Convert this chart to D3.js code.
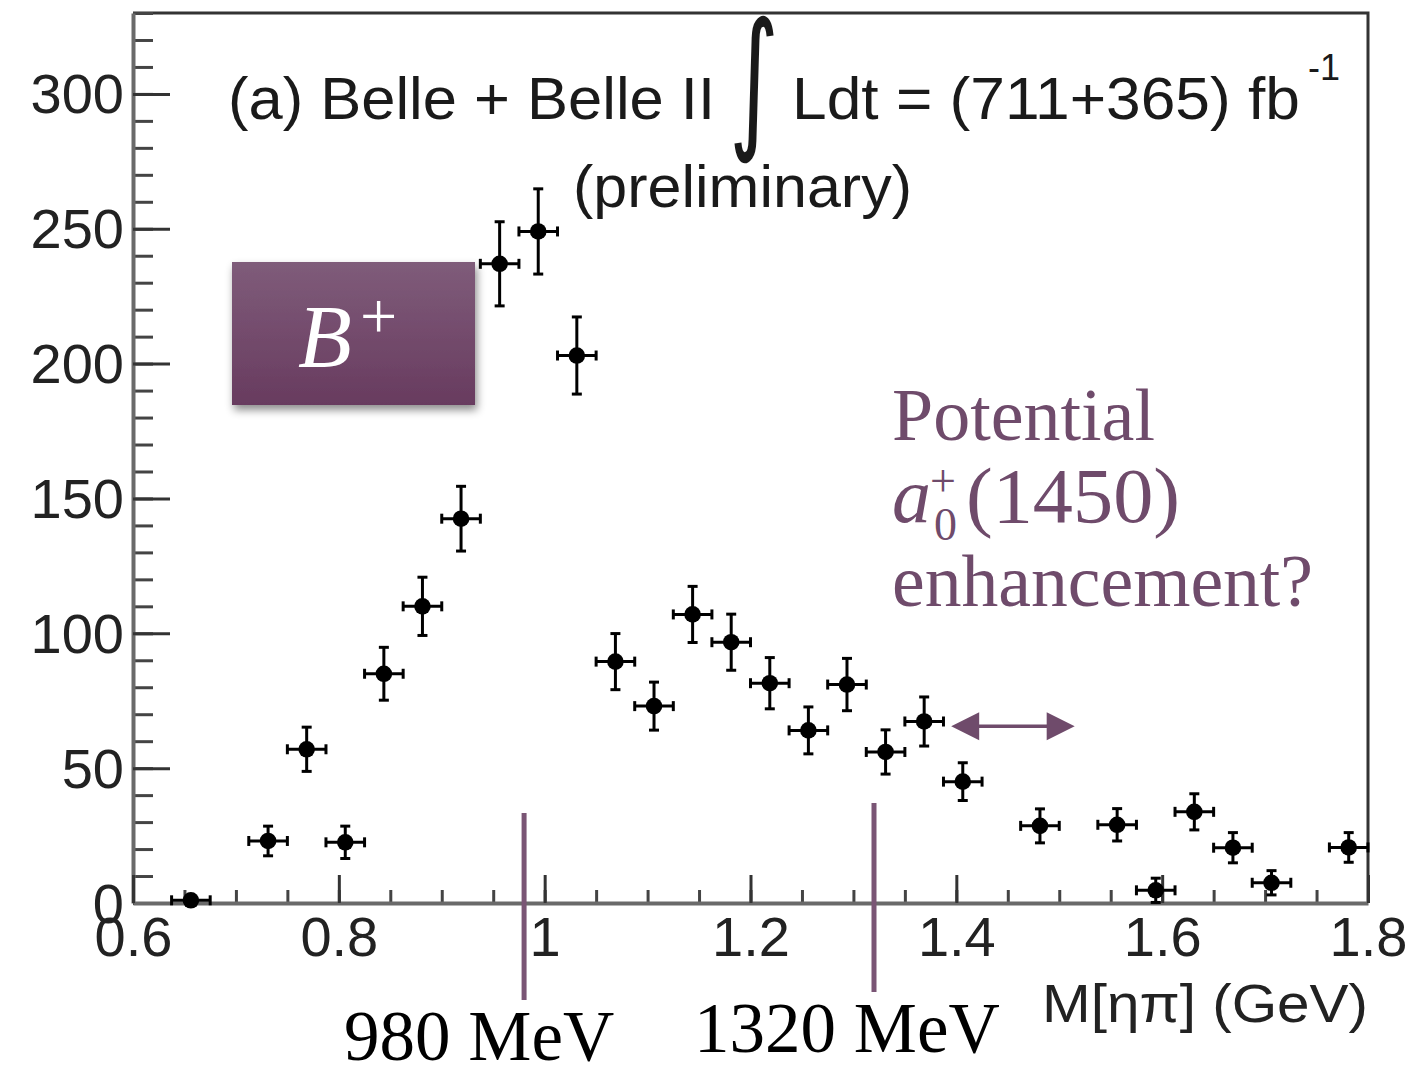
<!DOCTYPE html>
<html>
<head>
<meta charset="utf-8">
<script src="https://cdn.jsdelivr.net/npm/d3@7"></script>
<style>
  html, body { margin: 0; padding: 0; background: #ffffff; }
  svg { display: block; }
</style>
</head>
<body>
<svg id="chart" width="1414" height="1078"></svg>
<script>
// M(eta pi) spectrum, B+ sample: bin centres (GeV), yields and their errors
const binWidth = 0.0375;
const binCenters = [0.65625, 0.73125, 0.76875, 0.80625, 0.84375, 0.88125, 0.91875, 0.95625,
  0.99375, 1.03125, 1.06875, 1.10625, 1.14375, 1.18125, 1.21875, 1.25625, 1.29375, 1.33125,
  1.36875, 1.40625, 1.48125, 1.55625, 1.59375, 1.63125, 1.66875, 1.70625, 1.78125];
const counts = [1, 23, 57, 22.5, 85, 110, 142.5, 237, 249, 203, 89.5, 73, 107, 96.7, 81.5,
  64, 81, 56, 67.3, 45, 28.6, 29, 4.7, 33.8, 20.5, 7.5, 20.6];
const countErrors = [1.5, 5.5, 8.2, 6, 9.8, 10.8, 12, 15.6, 15.8, 14.3, 10.4, 8.9, 10.4, 10.4,
  9.5, 8.7, 9.7, 8.2, 9.1, 7, 6.3, 6, 4.5, 6.7, 5.6, 4.5, 5.5];

// axis ticks
const xTickValues = [0.6, 0.8, 1.0, 1.2, 1.4, 1.6, 1.8];
const yTickValues = [0, 50, 100, 150, 200, 250, 300];

// reference masses and the a0(1450) window
const markerMasses = [0.98, 1.32];
const markerLabels = ["980 MeV", "1320 MeV"];
const enhancementRange = [1.395, 1.515];

const svg = d3.select("#chart");
const frame = { left: 133, right: 1368, top: 13, bottom: 903 };
const purple = "#6f4b6b";
const sans = "'Liberation Sans', Arial, Helvetica, sans-serif";
const serif = "'Liberation Serif', 'Times New Roman', serif";

const x = d3.scaleLinear().domain([0.6, 1.8]).range([frame.left, frame.right]);
const y = d3.scaleLinear().domain([0, 330]).range([frame.bottom, frame.top]);

const defs = svg.append("defs");
const grad = defs.append("linearGradient").attr("id", "boxGrad")
  .attr("x1", 0).attr("y1", 0).attr("x2", 0).attr("y2", 1);
grad.append("stop").attr("offset", "0%").attr("stop-color", "#7f5c7a");
grad.append("stop").attr("offset", "100%").attr("stop-color", "#683b5f");
const shadow = defs.append("filter").attr("id", "shadow")
  .attr("x", "-20%").attr("y", "-20%").attr("width", "150%").attr("height", "150%");
shadow.append("feDropShadow").attr("dx", 2).attr("dy", 5).attr("stdDeviation", 4)
  .attr("flood-color", "#000").attr("flood-opacity", 0.45);

// frame: top and right edges
svg.append("path")
  .attr("d", `M${frame.left},${frame.top}H${frame.right}V${frame.bottom}`)
  .attr("fill", "none").attr("stroke", "#333").attr("stroke-width", 3);

// y axis: minor ticks, then major ticks with labels
const yMinor = d3.range(0, 331, 10);
svg.append("g").attr("transform", `translate(${frame.left},0)`)
  .call(d3.axisLeft(y).tickValues(yMinor).tickSize(-20).tickSizeOuter(0).tickFormat(""))
  .call(g => g.select(".domain").remove())
  .call(g => g.selectAll(".tick line").attr("stroke", "#444").attr("stroke-width", 3));
const yAxis = svg.append("g").attr("transform", `translate(${frame.left},0)`)
  .call(d3.axisLeft(y).tickValues(yTickValues).tickSize(-37).tickSizeOuter(0).tickPadding(9)
    .tickFormat(d => String(d)));
yAxis.select(".domain").attr("stroke", "#6a6a6a").attr("stroke-width", 4);
yAxis.selectAll(".tick line").attr("stroke", "#333").attr("stroke-width", 3);
yAxis.selectAll(".tick text").attr("font-family", sans).attr("font-size", 56)
  .attr("fill", "#222").attr("dy", "0.34em");

// x axis
const xMinor = d3.range(0.6, 1.8001, 0.05);
svg.append("g").attr("transform", `translate(0,${frame.bottom})`)
  .call(d3.axisBottom(x).tickValues(xMinor).tickSize(-13).tickSizeOuter(0).tickFormat(""))
  .call(g => g.select(".domain").remove())
  .call(g => g.selectAll(".tick line").attr("stroke", "#444").attr("stroke-width", 3));
const xAxis = svg.append("g").attr("transform", `translate(0,${frame.bottom})`)
  .call(d3.axisBottom(x).tickValues(xTickValues).tickSize(-28).tickSizeOuter(0).tickPadding(13)
    .tickFormat(d => String(+d.toFixed(1))));
xAxis.select(".domain").attr("stroke", "#6a6a6a").attr("stroke-width", 4);
xAxis.selectAll(".tick line").attr("stroke", "#333").attr("stroke-width", 3);
xAxis.selectAll(".tick text").attr("font-family", sans).attr("font-size", 56).attr("fill", "#222");

svg.append("text").attr("x", frame.right).attr("y", 1022).attr("text-anchor", "end")
  .attr("font-family", sans).attr("font-size", 53).attr("fill", "#222")
  .attr("textLength", 326).attr("lengthAdjust", "spacingAndGlyphs")
  .text("M[ηπ] (GeV)");

// data points with error bars
const pts = binCenters.map((c, i) => ({ c, v: counts[i], e: countErrors[i] }));
const pg = svg.append("g").attr("stroke", "#000").attr("stroke-width", 3);
const cap = 5;
pts.forEach(p => {
  const cx = x(p.c), cy = y(p.v);
  const xl = x(p.c - binWidth / 2), xr = x(p.c + binWidth / 2);
  const yt = y(p.v + p.e), yb = y(Math.max(0, p.v - p.e));
  pg.append("line").attr("x1", xl).attr("x2", xr).attr("y1", cy).attr("y2", cy);
  pg.append("line").attr("x1", cx).attr("x2", cx).attr("y1", yt).attr("y2", yb);
  pg.append("line").attr("x1", xl).attr("x2", xl).attr("y1", cy - cap).attr("y2", cy + cap);
  pg.append("line").attr("x1", xr).attr("x2", xr).attr("y1", cy - cap).attr("y2", cy + cap);
  pg.append("line").attr("x1", cx - cap).attr("x2", cx + cap).attr("y1", yt).attr("y2", yt);
  if (p.v - p.e > 0)
    pg.append("line").attr("x1", cx - cap).attr("x2", cx + cap).attr("y1", yb).attr("y2", yb);
});
svg.append("g").selectAll("circle").data(pts).join("circle")
  .attr("cx", d => x(d.c)).attr("cy", d => y(d.v)).attr("r", 8.3).attr("fill", "#000");

// header text
svg.append("text").attr("x", 228).attr("y", 119).attr("font-family", sans).attr("font-size", 60)
  .attr("fill", "#1a1a1a").attr("textLength", 487).attr("lengthAdjust", "spacingAndGlyphs")
  .text("(a) Belle + Belle II");
svg.append("text").attr("transform", "translate(729,131) scale(1,1.59)")
  .attr("font-family", "'DejaVu Sans', sans-serif").attr("font-size", 96).attr("fill", "#1a1a1a")
  .text("∫");
svg.append("text").attr("x", 792).attr("y", 119).attr("font-family", sans).attr("font-size", 60)
  .attr("fill", "#1a1a1a").attr("textLength", 508).attr("lengthAdjust", "spacingAndGlyphs")
  .text("Ldt = (711+365) fb");
svg.append("text").attr("x", 1308).attr("y", 80).attr("font-family", sans).attr("font-size", 36)
  .attr("fill", "#1a1a1a").text("-1");
svg.append("text").attr("x", 573).attr("y", 207).attr("font-family", sans).attr("font-size", 60)
  .attr("fill", "#1a1a1a").attr("textLength", 339).attr("lengthAdjust", "spacingAndGlyphs")
  .text("(preliminary)");

// B+ tag
svg.append("rect").attr("x", 232).attr("y", 262).attr("width", 243).attr("height", 143)
  .attr("fill", "url(#boxGrad)").attr("filter", "url(#shadow)");
svg.append("text").attr("x", 298).attr("y", 366).attr("font-family", serif)
  .attr("font-style", "italic").attr("font-size", 88).attr("fill", "#fff").text("B");
svg.append("text").attr("x", 360).attr("y", 338).attr("font-family", serif)
  .attr("font-size", 66).attr("fill", "#fff").text("+");

// a0(1450) note
const note = svg.append("g").attr("font-family", serif).attr("fill", purple);
note.append("text").attr("x", 892).attr("y", 440).attr("font-size", 73)
  .attr("textLength", 263).attr("lengthAdjust", "spacingAndGlyphs").text("Potential");
note.append("text").attr("x", 892).attr("y", 522).attr("font-size", 78)
  .attr("font-style", "italic").text("a");
note.append("text").attr("x", 930).attr("y", 496).attr("font-size", 46).text("+");
note.append("text").attr("x", 934).attr("y", 540).attr("font-size", 46).text("0");
note.append("text").attr("x", 966).attr("y", 522).attr("font-size", 78)
  .attr("textLength", 214).attr("lengthAdjust", "spacingAndGlyphs").text("(1450)");
note.append("text").attr("x", 892).attr("y", 606).attr("font-size", 73)
  .attr("textLength", 421).attr("lengthAdjust", "spacingAndGlyphs").text("enhancement?");

// double-headed arrow over the enhancement window
const ay = y(65.5), ax1 = x(enhancementRange[0]), ax2 = x(enhancementRange[1]);
const head = 28, hh = 14;
svg.append("line").attr("x1", ax1 + head - 2).attr("x2", ax2 - head + 2).attr("y1", ay).attr("y2", ay)
  .attr("stroke", purple).attr("stroke-width", 3.5);
svg.append("path").attr("d", `M${ax1},${ay}L${ax1 + head},${ay - hh}L${ax1 + head},${ay + hh}Z`)
  .attr("fill", purple);
svg.append("path").attr("d", `M${ax2},${ay}L${ax2 - head},${ay - hh}L${ax2 - head},${ay + hh}Z`)
  .attr("fill", purple);

// reference mass lines and labels
const lineSpan = [[813, 1000], [803, 992]];
const labelBase = [1060, 1052];
markerMasses.forEach((m, i) => {
  svg.append("line").attr("x1", x(m)).attr("x2", x(m))
    .attr("y1", lineSpan[i][0]).attr("y2", lineSpan[i][1])
    .attr("stroke", "#7a5575").attr("stroke-width", 5);
  svg.append("text").attr("x", x(m) - 180).attr("y", labelBase[i])
    .attr("font-family", serif).attr("font-size", 71).attr("fill", "#000")
    .text(markerLabels[i]);
});
</script>
</body>
</html>
